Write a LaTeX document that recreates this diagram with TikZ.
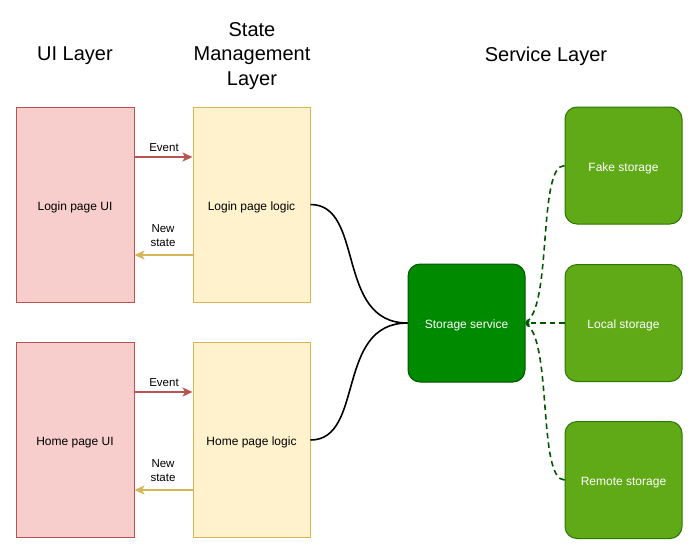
\documentclass[tikz,border=0pt]{standalone}
\usepackage{fontspec}
\setmainfont{Liberation Sans}
\usetikzlibrary{arrows.meta}
\definecolor{redfill}{HTML}{F8CECC}
\definecolor{redline}{HTML}{B85450}
\definecolor{yelfill}{HTML}{FFF2CC}
\definecolor{yelline}{HTML}{D6B656}
\definecolor{dgfill}{HTML}{008A00}
\definecolor{dgline}{HTML}{005700}
\definecolor{lgfill}{HTML}{60A917}
\definecolor{lgline}{HTML}{2D7600}
\begin{document}
\begin{tikzpicture}[x=1pt,y=-1pt,
  boxtext/.style={font=\fontsize{12}{14}\selectfont,text height=11pt,text depth=0pt},
  uibox/.style={boxtext,draw=redline,fill=redfill,line width=1pt,minimum width=118pt,minimum height=195pt,inner sep=0pt},
  logicbox/.style={boxtext,draw=yelline,fill=yelfill,line width=1pt,minimum width=117pt,minimum height=195pt,inner sep=0pt},
  svcbox/.style={boxtext,draw=dgline,fill=dgfill,rounded corners=12pt,line width=1pt,minimum width=117pt,minimum height=118pt,inner sep=0pt,text=white},
  storebox/.style={boxtext,draw=lgline,fill=lgfill,rounded corners=12pt,line width=1pt,minimum width=117pt,minimum height=117pt,inner sep=0pt,text=white},
  header/.style={align=center,font=\fontsize{20}{24.8}\selectfont},
  lbl/.style={align=center,font=\fontsize{11.5}{13.3}\selectfont},
  evarrow/.style={draw=redline,line width=1.5pt,-{Stealth[length=10pt,width=9pt,inset=2.5pt]}},
  starrow/.style={draw=yelline,line width=1.5pt,-{Stealth[length=10pt,width=9pt,inset=2.5pt]}},
  link/.style={draw=black,line width=1.6pt},
  dlink/.style={draw=dgline,line width=1.6pt,dash pattern=on 5.5pt off 4pt,-{Stealth[length=4pt,width=4pt,inset=1pt]}}
]
\useasboundingbox (0,0) rectangle (700,555);
\fill[white] (0,0) rectangle (700,555);

\node[header] (h1) at (75,56) {UI Layer};
\node[header] (h2) at (252,56) {State\\Management\\Layer};
\node[header] (h3) at (546,56) {Service Layer};

\node[uibox] (lui) at (75,204.5) {Login page UI};
\node[logicbox] (llog) at (251.5,204.5) {Login page logic};
\node[uibox] (hui) at (75,440) {Home page UI};
\node[logicbox] (hlog) at (251.5,440) {Home page logic};

\node[svcbox] (svc) at (466.5,323) {Storage service};
\node[storebox] (fake) at (623.5,165.5) {Fake storage};
\node[storebox] (local) at (623.5,323) {Local storage};
\node[storebox] (remote) at (623.5,480) {Remote storage};

% login arrows
\coordinate (le1) at (lui.east |- 0,157);
\coordinate (le2) at (llog.west |- 0,157);
\draw[evarrow] (le1) -- (le2);
\node[lbl] (lev) at (164,147.5) {Event};
\coordinate (ls1) at (llog.west |- 0,255);
\coordinate (ls2) at (lui.east |- 0,255);
\draw[starrow] (ls1) -- (ls2);
\node[lbl] (lst) at (163,235.5) {New\\state};

% home arrows
\coordinate (he1) at (hui.east |- 0,392);
\coordinate (he2) at (hlog.west |- 0,392);
\draw[evarrow] (he1) -- (he2);
\node[lbl] (hev) at (164,382.5) {Event};
\coordinate (hs1) at (hlog.west |- 0,490);
\coordinate (hs2) at (hui.east |- 0,490);
\draw[starrow] (hs1) -- (hs2);
\node[lbl] (hst) at (163,470.5) {New\\state};

% links to storage service
\draw[link] (llog.east) .. controls (365,204.5) and (335,323) .. (svc.west);
\draw[link] (hlog.east) .. controls (365,440) and (335,323) .. (svc.west);

% dashed links
\draw[dlink] (fake.west) .. controls (538,165.5) and (552,300) .. (svc.east);
\draw[dlink] (local.west) -- (svc.east);
\draw[dlink] (remote.west) .. controls (538,480) and (552,346) .. (svc.east);
\end{tikzpicture}
\end{document}
